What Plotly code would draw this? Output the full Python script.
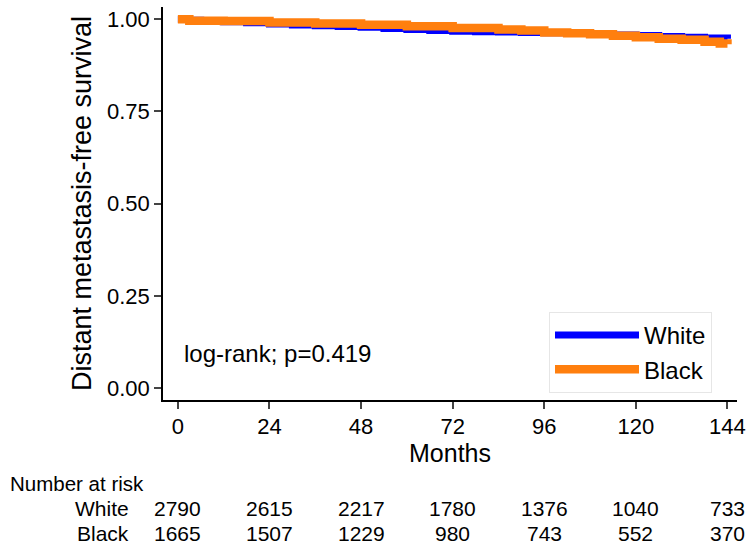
import plotly.graph_objects as go

# Kaplan-Meier step estimates
white_months = [0, 3, 6, 12, 18, 24, 30, 36, 42, 48, 54, 60, 66, 72, 78, 84, 90, 96, 102, 108, 114, 120, 126, 132, 138, 144]
white_surv = [1.0, 0.997, 0.995, 0.993, 0.990, 0.987, 0.984, 0.982, 0.980, 0.978, 0.975, 0.972, 0.969, 0.967, 0.966, 0.965, 0.964, 0.963, 0.961, 0.959, 0.957, 0.956, 0.953, 0.951, 0.949, 0.947]
black_months = [0, 3, 12, 24, 36, 48, 60, 72, 84, 90, 96, 102, 108, 114, 120, 126, 132, 138, 142, 144]
black_surv = [1.0, 0.996, 0.995, 0.991, 0.988, 0.985, 0.981, 0.976, 0.972, 0.969, 0.964, 0.962, 0.959, 0.955, 0.951, 0.947, 0.944, 0.939, 0.934, 0.932]

tick_months = [0, 24, 48, 72, 96, 120, 144]
y_ticks = [0, 0.25, 0.5, 0.75, 1.0]
risk_white = [2790, 2615, 2217, 1780, 1376, 1040, 733]
risk_black = [1665, 1507, 1229, 980, 743, 552, 370]

FONT = "Liberation Sans, Arial, sans-serif"

L, R, T, B = 163, 15, 7, 151
W, H = 752, 551
pw, ph = W - L - R, H - T - B


def px_x(x):
    return (x - L) / pw


def px_y(y):
    return (H - B - y) / ph


fig = go.Figure()
fig.add_trace(go.Scatter(x=white_months, y=white_surv, mode="lines", name="White",
                         line=dict(color="#0000ff", width=7, shape="hv")))
fig.add_trace(go.Scatter(x=black_months, y=black_surv, mode="lines", name="Black",
                         line=dict(color="#ff7f0e", width=8.5, shape="hv")))

anns = [
    dict(text="log-rank; p=0.419", x=px_x(182), y=px_y(353), xref="paper", yref="paper", xanchor="left",
         yanchor="middle", showarrow=False, font=dict(size=24, color="black", family=FONT)),
    dict(text="Months", x=px_x(450), y=px_y(453), xref="paper", yref="paper", xanchor="center",
         yanchor="middle", showarrow=False, font=dict(size=25, color="black", family=FONT)),
    dict(text="Number at risk", x=px_x(8), y=px_y(483), xref="paper", yref="paper", xanchor="left",
         yanchor="middle", showarrow=False, font=dict(size=20.5, color="black", family=FONT)),
]
for label, vals, ypix in (("White", risk_white, 508), ("Black", risk_black, 533)):
    anns.append(dict(text=label, x=px_x(131), y=px_y(ypix), xref="paper", yref="paper", showarrow=False,
                     xanchor="right", yanchor="middle", font=dict(size=21, color="black", family=FONT)))
    for m, v in zip(tick_months, vals):
        anns.append(dict(text=str(v), x=m, y=px_y(ypix), xref="x", yref="paper", showarrow=False,
                         xanchor="center", yanchor="middle", font=dict(size=21, color="black", family=FONT)))

fig.update_layout(
    annotations=anns,
    width=W, height=H,
    margin=dict(l=L, r=R, t=T, b=B),
    plot_bgcolor="white", paper_bgcolor="white",
    font=dict(family=FONT, color="black"),
    showlegend=True,
    legend=dict(x=px_x(549), y=px_y(393), xanchor="left", yanchor="bottom", bgcolor="white",
                bordercolor="#e6e6e6", borderwidth=1, font=dict(size=24, family=FONT),
                itemwidth=84, tracegroupgap=0),
    xaxis=dict(range=[-3.9, 146.5], tickvals=tick_months, ticks="outside", ticklen=7, tickwidth=1.5,
               showline=True, linecolor="black", linewidth=1.5, showgrid=False, zeroline=False,
               tickfont=dict(size=22, family=FONT), ticklabelstandoff=-1),
    yaxis=dict(range=[-0.0325, 1.033], tickvals=y_ticks, tickformat=".2f", ticks="outside", ticklen=7,
               tickwidth=1.5, showline=True, linecolor="black", linewidth=1.5, showgrid=False,
               zeroline=False, tickfont=dict(size=22, family=FONT),
               title=dict(text="Distant metastasis-free survival", font=dict(size=27, family=FONT), standoff=8)),
)

fig.write_html("out.html", config={"displayModeBar": False},
               post_script="document.body.style.margin='0';document.body.style.overflow='hidden';")
